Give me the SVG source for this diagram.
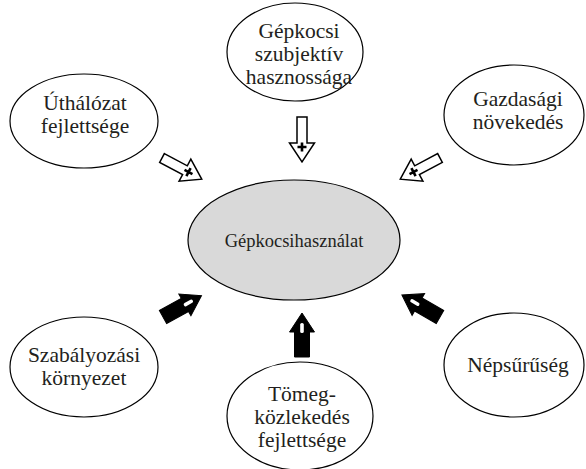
<svg xmlns="http://www.w3.org/2000/svg" width="586" height="469" viewBox="0 0 586 469">
<style>
.node ellipse{fill:#fff;stroke:#000;stroke-width:1.2}
#center ellipse{fill:#d9d9d9}
text{font-family:"Liberation Serif","Times New Roman",serif;font-size:21.5px;fill:#231f20;text-anchor:middle}
#center text{font-size:18.5px}
.wa{fill:#fff;stroke:#000;stroke-width:1.5;stroke-linejoin:miter}
.ba{fill:#000;stroke:#000;stroke-width:1}
.plus{stroke:#000;stroke-width:2.6;fill:none}
.minus{fill:#fff}
</style>
<defs>
<path id="warrow" class="wa" d="M0,-5 L26,-5 L26,-12.5 L45,0 L26,12.5 L26,5 L0,5 Z"/>
<path id="barrow" class="ba" d="M0,-7.5 L25,-7.5 L25,-12.5 L44,0 L25,12.5 L25,7.5 L0,7.5 Z"/>
<path id="plusmark" class="plus" d="M25.5,0 L34.5,0 M30,-4.5 L30,4.5"/>
<rect id="minusmark" class="minus" x="24" y="-1.8" width="10" height="3.6" rx="1.6"/>
</defs>
<g id="center" class="node">
<ellipse cx="294" cy="240" rx="106" ry="60"/>
<text x="294" y="247">Gépkocsihasználat</text>
</g>
<g id="uthalozat" class="node">
<ellipse cx="84" cy="121" rx="74" ry="47"/>
<text x="85" y="110">Úthálózat</text>
<text x="85" y="133">fejlettsége</text>
</g>
<g id="gepkocsi" class="node">
<ellipse cx="295" cy="52" rx="68" ry="49"/>
<text x="299" y="38">Gépkocsi</text>
<text x="299" y="61">szubjektív</text>
<text x="299" y="84">hasznossága</text>
</g>
<g id="gazdasagi" class="node">
<ellipse cx="514" cy="115" rx="70" ry="50"/>
<text x="518" y="106">Gazdasági</text>
<text x="518" y="129">növekedés</text>
</g>
<g id="szabalyozasi" class="node">
<ellipse cx="84" cy="367" rx="74" ry="50"/>
<text x="84" y="362">Szabályozási</text>
<text x="84" y="385">környezet</text>
</g>
<g id="tomeg" class="node">
<ellipse cx="300" cy="416" rx="73" ry="54"/>
<text x="302" y="401">Tömeg-</text>
<text x="302" y="424">közlekedés</text>
<text x="302" y="447">fejlettsége</text>
</g>
<g id="nepsuruseg" class="node">
<ellipse cx="514" cy="365" rx="70" ry="52"/>
<text x="518" y="372">Népsűrűség</text>
</g>
<g id="connectors">
<g transform="translate(162,158) rotate(28)"><use href="#warrow"/><use href="#plusmark"/></g>
<g transform="translate(302,117) rotate(90)"><use href="#warrow"/><use href="#plusmark"/></g>
<g transform="translate(440,158) rotate(152)"><use href="#warrow"/><use href="#plusmark"/></g>
<g transform="translate(163,317) rotate(-29)"><use href="#barrow"/><use href="#minusmark"/></g>
<g transform="translate(302,357) rotate(-90)"><use href="#barrow"/><use href="#minusmark"/></g>
<g transform="translate(440,317) rotate(-150)"><use href="#barrow"/><use href="#minusmark"/></g>
</g>
</svg>
